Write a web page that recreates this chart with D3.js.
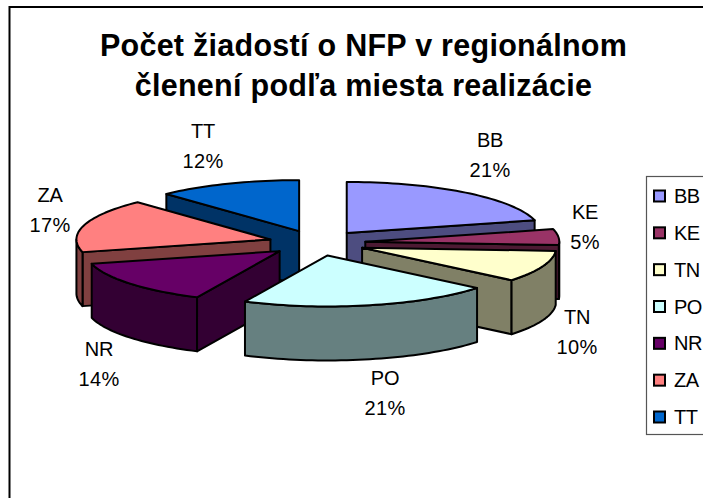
<!DOCTYPE html>
<html><head><meta charset="utf-8">
<script src="https://cdn.jsdelivr.net/npm/d3@7"></script>
<style>html,body{margin:0;padding:0;background:#fff;overflow:hidden}svg{display:block}text{font-family:"Liberation Sans",Arial,sans-serif;fill:#000}</style>
</head><body><svg id="c" width="703" height="498"></svg>
<script>
const categories = ["BB","KE","TN","PO","NR","ZA","TT"];
const values = [21,5,10,21,14,17,12];
const topColors = ["#9999FF","#993366","#FFFFCC","#CCFFFF","#660066","#FF8080","#0066CC"];
const sideColors = ["#4D4D80","#4D1A33","#808066","#668080","#330033","#804040","#003366"];
const titleLines = ["Počet žiadostí o NFP v regionálnom","členení podľa miesta realizácie"];
const drawOrder = ["TT","ZA","BB","KE","TN","NR","PO"];
const labelAnchors = {BB:[490,147],KE:[585,219],TN:[577,324],PO:[385,385],NR:[99,356],ZA:[50,202],TT:[203,138]};

const svg = d3.select("#c");
const W=703,H=498;
svg.append("rect").attr("width",W).attr("height",H).attr("fill","#fff");
svg.append("rect").attr("x",9.5).attr("y",7).attr("width",W+20).attr("height",H+20)
  .attr("fill","#fff").attr("stroke","#000").attr("stroke-width",2);

const cx=317, cy=243, rx=194, ry=51, depth=54, explode=0.25;
const line=d3.line().x(d=>d[0]).y(d=>d[1]);
const pie=d3.pie().sort(null).value(d=>d.v).startAngle(0).endAngle(2*Math.PI);
const arcs=pie(categories.map((c,i)=>({c,v:values[i],i})));
const byName=new Map(arcs.map(a=>[a.data.c,a]));

function apex(a){const m=(a.startAngle+a.endAngle)/2;
  return [cx+explode*rx*Math.sin(m), cy-explode*ry*Math.cos(m)];}
function rim(ap,t){return [ap[0]+rx*Math.sin(t), ap[1]-ry*Math.cos(t)];}
function samples(a0,a1){const n=Math.max(2,Math.ceil((a1-a0)/0.03));
  return d3.range(n+1).map(i=>a0+(a1-a0)*i/n);}
const down=p=>[p[0],p[1]+depth];

const g=svg.append("g").attr("stroke","#000").attr("stroke-width",2).attr("stroke-linejoin","round");
drawOrder.forEach(name=>{
  const a=byName.get(name), i=a.data.i, ap=apex(a);
  const sl=g.append("g");
  [[a.startAngle,-1],[a.endAngle,1]].forEach(([t,s])=>{
    if(s*Math.sin(t)>1e-6){
      const r=rim(ap,t);
      sl.append("path").attr("fill",sideColors[i]).attr("d",line([ap,r,down(r),down(ap)])+"Z");
    }
  });
  const f0=Math.max(a.startAngle,Math.PI/2), f1=Math.min(a.endAngle,3*Math.PI/2);
  if(f1>f0){
    const pts=samples(f0,f1).map(t=>rim(ap,t));
    sl.append("path").attr("fill",sideColors[i]).attr("d",line(pts.concat(pts.slice().reverse().map(down)))+"Z");
  }
  const tp=[ap].concat(samples(a.startAngle,a.endAngle).map(t=>rim(ap,t)));
  sl.append("path").attr("fill",topColors[i]).attr("d",line(tp)+"Z");
});

const title=svg.append("g").attr("text-anchor","middle").attr("font-weight","bold").attr("font-size",30.5).attr("letter-spacing",0.27);
titleLines.forEach((t,i)=>title.append("text").attr("x",363.5).attr("y",56+i*40).text(t));

const total=d3.sum(values), fmt=d3.format(".0%");
const lab=svg.append("g").attr("text-anchor","middle").attr("font-size",20);
arcs.forEach(a=>{const [x,y]=labelAnchors[a.data.c];
  lab.append("text").attr("x",x).attr("y",y).attr("letter-spacing",-0.3).text(a.data.c);
  lab.append("text").attr("x",x).attr("y",y+29.5).attr("letter-spacing",0.3).text(fmt(a.data.v/total));
});

const lg=svg.append("g");
lg.append("rect").attr("x",646.5).attr("y",176.5).attr("width",80).attr("height",258)
  .attr("fill","#fff").attr("stroke","#555").attr("stroke-width",1.2);
const ly=d3.scalePoint().domain(categories).range([196,417]);
categories.forEach((c,i)=>{
  lg.append("rect").attr("x",654).attr("y",ly(c)-5.5).attr("width",11).attr("height",11)
    .attr("fill",topColors[i]).attr("stroke","#000").attr("stroke-width",2);
  lg.append("text").attr("x",674).attr("y",ly(c)+7).attr("font-size",20).attr("letter-spacing",-0.5).text(c);
});
</script></body></html>
